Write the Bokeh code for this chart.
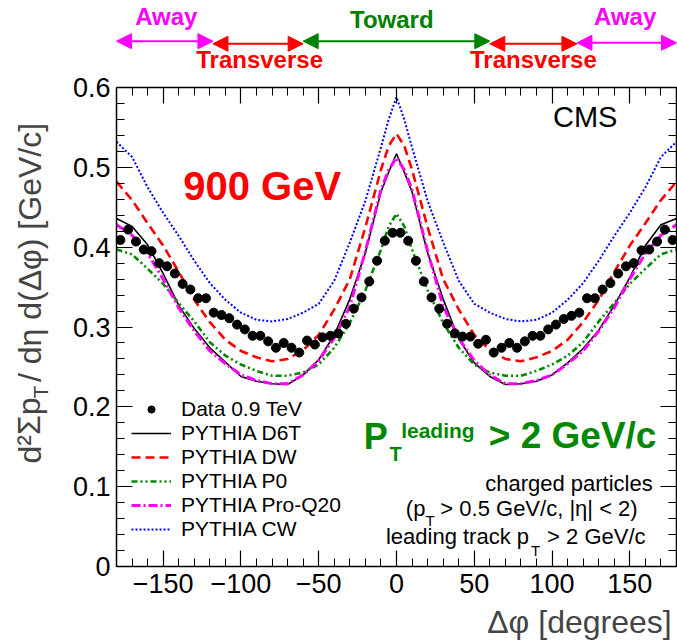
from bokeh.plotting import figure
from bokeh.models import (Range1d, FixedTicker, LinearAxis, Label, Legend, LegendItem,
                          Arrow, NormalHead, CustomLabelingPolicy)
from bokeh.layouts import column, row
from bokeh.embed import file_html
from bokeh.resources import INLINE

# ---------------- data ----------------
dphi_data = [-177.5, -172.5, -167.5, -162.5, -157.5, -152.5, -147.5, -142.5, -137.5, -132.5,
             -127.5, -122.5, -117.5, -112.5, -107.5, -102.5, -97.5, -92.5, -87.5, -82.5,
             -77.5, -72.5, -67.5, -62.5, -57.5, -52.5, -47.5, -42.5, -37.5, -32.5,
             -27.5, -22.5, -17.5, -12.5, -7.5, -2.5,
             2.5, 7.5, 12.5, 17.5, 22.5, 27.5, 32.5, 37.5, 42.5, 47.5,
             52.5, 57.5, 62.5, 67.5, 72.5, 77.5, 82.5, 87.5, 92.5, 97.5,
             102.5, 107.5, 112.5, 117.5, 122.5, 127.5, 132.5, 137.5, 142.5, 147.5,
             152.5, 157.5, 162.5, 167.5, 172.5, 177.5]
data_09tev = [0.409, 0.422, 0.407, 0.397, 0.395, 0.380, 0.376, 0.367, 0.354, 0.347,
              0.336, 0.336, 0.318, 0.315, 0.311, 0.303, 0.297, 0.289, 0.289, 0.282,
              0.274, 0.280, 0.274, 0.268, 0.283, 0.278, 0.287, 0.289, 0.292, 0.304,
              0.323, 0.337, 0.357, 0.383, 0.408, 0.418,
              0.418, 0.408, 0.383, 0.357, 0.337, 0.323, 0.304, 0.292, 0.288, 0.288,
              0.279, 0.284, 0.268, 0.274, 0.280, 0.274, 0.282, 0.289, 0.289, 0.297,
              0.303, 0.310, 0.314, 0.318, 0.336, 0.336, 0.347, 0.355, 0.367, 0.376,
              0.380, 0.396, 0.397, 0.407, 0.422, 0.409]

dphi_mc = [-180, -170, -160, -150, -140, -130, -120, -110, -100, -90, -80, -70, -60, -50,
           -40, -30, -20, -10, -5, 0, 5, 10, 20, 30, 40, 50, 60, 70, 80, 90, 100, 110,
           120, 130, 140, 150, 160, 170, 180]
pythia_d6t = [0.436, 0.426, 0.403, 0.367, 0.327, 0.298, 0.274, 0.256, 0.238, 0.232, 0.229,
              0.228, 0.240, 0.259, 0.290, 0.335, 0.393, 0.469, 0.494, 0.517, 0.494, 0.469,
              0.393, 0.335, 0.285, 0.255, 0.238, 0.228, 0.229, 0.232, 0.240, 0.255, 0.273,
              0.296, 0.327, 0.362, 0.402, 0.428, 0.436]
pythia_dw = [0.482, 0.459, 0.430, 0.402, 0.369, 0.334, 0.306, 0.284, 0.270, 0.262, 0.257,
             0.260, 0.271, 0.290, 0.322, 0.360, 0.425, 0.497, 0.527, 0.542, 0.527, 0.497,
             0.425, 0.360, 0.322, 0.290, 0.271, 0.260, 0.257, 0.262, 0.270, 0.284, 0.306,
             0.334, 0.369, 0.402, 0.430, 0.459, 0.482]
pythia_p0 = [0.397, 0.391, 0.373, 0.354, 0.330, 0.307, 0.281, 0.264, 0.253, 0.245, 0.239,
             0.239, 0.243, 0.253, 0.274, 0.305, 0.346, 0.397, 0.426, 0.442, 0.426, 0.397,
             0.346, 0.305, 0.274, 0.253, 0.243, 0.239, 0.239, 0.245, 0.253, 0.264, 0.281,
             0.307, 0.330, 0.354, 0.373, 0.391, 0.397]
pythia_proq20 = [0.428, 0.415, 0.392, 0.360, 0.324, 0.295, 0.270, 0.254, 0.240, 0.233, 0.229,
                 0.229, 0.240, 0.258, 0.286, 0.326, 0.395, 0.472, 0.497, 0.512, 0.497, 0.472,
                 0.395, 0.326, 0.286, 0.258, 0.240, 0.229, 0.229, 0.233, 0.240, 0.254, 0.270,
                 0.295, 0.324, 0.360, 0.392, 0.415, 0.428]
pythia_cw = [0.532, 0.513, 0.475, 0.443, 0.414, 0.383, 0.355, 0.334, 0.318, 0.309, 0.307,
             0.310, 0.318, 0.329, 0.358, 0.406, 0.458, 0.525, 0.560, 0.588, 0.560, 0.525,
             0.458, 0.406, 0.358, 0.329, 0.318, 0.310, 0.307, 0.309, 0.318, 0.334, 0.355,
             0.383, 0.414, 0.443, 0.475, 0.513, 0.532]

x_ticks = [-150, -100, -50, 0, 50, 100, 150]
x_minor = [-180, -170, -160, -150, -140, -130, -120, -110, -100, -90, -80, -70, -60, -50, -40,
           -30, -20, -10, 0, 10, 20, 30, 40, 50, 60, 70, 80, 90, 100, 110, 120, 130, 140, 150,
           160, 170, 180]
y_ticks = [0, 0.1, 0.2, 0.3, 0.4, 0.5, 0.6]
y_tick_labels = ["0", "0.1", "0.2", "0.3", "0.4", "0.5", "0.6"]
y_minor = [0.0, 0.02, 0.04, 0.06, 0.08, 0.1, 0.12, 0.14, 0.16, 0.18, 0.2, 0.22, 0.24, 0.26,
           0.28, 0.3, 0.32, 0.34, 0.36, 0.38, 0.4, 0.42, 0.44, 0.46, 0.48, 0.5, 0.52, 0.54,
           0.56, 0.58, 0.6]

legend_labels = ["Data 0.9 TeV", "PYTHIA D6T", "PYTHIA DW", "PYTHIA P0", "PYTHIA Pro-Q20",
                 "PYTHIA CW"]

region_names = ["Away", "Transverse", "Toward", "Transverse", "Away"]
region_edges = [-180, -118, -60, 60, 116, 180]
region_colors = ["#ff00ff", "#ff0000", "#008000", "#ff0000", "#ff00ff"]

FONT = "Liberation Sans"
RED, GREEN, MAG, BLUE = "#ff0000", "#008800", "#ff00ff", "#0000ff"

xr = Range1d(-180, 180)


def strip(height):
    f = figure(width=617, height=height, x_range=xr, y_range=Range1d(height, 0),
               toolbar_location=None, output_backend="svg", title_location=None,
               x_axis_location=None, y_axis_location=None,
               min_border_left=56, min_border_right=1, min_border_top=0, min_border_bottom=0)
    f.outline_line_color = None
    f.grid.visible = False
    return f


# ---------------- top strip with region arrows ----------------
top = strip(74)
arrow_y = [40.7, 43.3, 40.7, 43.3, 42.3]
label_y = [16.4, 59, 19.4, 59, 16.4]
label_x = [-148, -88, -3, 88, 147]
for i in range(5):
    c = region_colors[i]
    top.add_layout(Arrow(x_start=region_edges[i], y_start=arrow_y[i],
                         x_end=region_edges[i + 1], y_end=arrow_y[i],
                         start=NormalHead(size=15, fill_color=c, line_color=c),
                         end=NormalHead(size=15, fill_color=c, line_color=c),
                         line_color=c, line_width=2))
    top.add_layout(Label(x=label_x[i], y=label_y[i], text=region_names[i], text_color=c,
                         text_font=FONT, text_font_style="bold", text_font_size="24px",
                         text_align="center", text_baseline="alphabetic"))

# ---------------- bottom strip with x title ----------------
bottom = strip(38)
bottom.add_layout(Label(x=176.9, y=17.2, text="Δφ [degrees]", text_font=FONT,
                        text_font_size="32px", text_align="right",
                        text_baseline="alphabetic"))

# ---------------- left strip with y title ----------------
yfig = figure(width=60, height=642, x_range=Range1d(0, 60), y_range=Range1d(642, 0),
              toolbar_location=None, output_backend="svg", title_location=None,
              x_axis_location=None, y_axis_location=None,
              min_border_left=0, min_border_right=0, min_border_top=0, min_border_bottom=0)
yfig.outline_line_color = None
yfig.grid.visible = False
for (yx, yy, ytxt, ysize, yal) in [(29, 463, "d²Σp", "32px", "left"),
                                   (39.6, 398, "T", "21px", "left"),
                                   (29, 78, "  /  dη  d(Δφ)  [GeV/c]", "32px", "right")]:
    yfig.add_layout(Label(x=yx, y=yy, text=ytxt, text_font=FONT, text_font_size=ysize,
                          text_align=yal, text_baseline="alphabetic", angle=1.5708))

# ---------------- main plot ----------------
p = figure(width=617, height=530, x_range=xr, y_range=Range1d(0, 0.6),
           toolbar_location=None, output_backend="svg", title_location=None,
           min_border_left=56, min_border_right=1, min_border_top=13, min_border_bottom=38)
p.grid.visible = False
p.outline_line_color = None

no_labels = CustomLabelingPolicy(code="""
if (typeof indices.clear === "function") { indices.clear(); return indices }
for (const i of [...indices]) indices.unset(i)
return indices
""")


def style_axis(ax, labels=True):
    ax.major_tick_in = 16
    ax.major_tick_out = 0
    ax.minor_tick_in = 8
    ax.minor_tick_out = 0
    ax.axis_line_width = 1.5
    ax.axis_line_color = "black"
    ax.major_tick_line_width = 1.2
    ax.minor_tick_line_width = 1
    if labels:
        ax.major_label_text_font = FONT
        ax.major_label_text_font_size = "27px"
        ax.major_label_text_color = "black"
    else:
        ax.major_label_text_font_size = "0px"
        ax.major_label_standoff = 0
        ax.major_label_policy = no_labels


p.xaxis.ticker = FixedTicker(ticks=x_ticks, minor_ticks=x_minor)
p.yaxis.ticker = FixedTicker(ticks=y_ticks, minor_ticks=y_minor)
p.yaxis.major_label_overrides = dict(zip(y_ticks, y_tick_labels))
style_axis(p.xaxis[0])
style_axis(p.yaxis[0])
p.xaxis.major_label_standoff = 7
p.yaxis.major_label_standoff = 6

ax_top = LinearAxis(ticker=FixedTicker(ticks=x_ticks, minor_ticks=x_minor))
style_axis(ax_top, labels=False)
p.add_layout(ax_top, "above")
ax_right = LinearAxis(ticker=FixedTicker(ticks=y_ticks, minor_ticks=y_minor))
style_axis(ax_right, labels=False)
p.add_layout(ax_right, "right")

r_d6t = p.line(dphi_mc, pythia_d6t, line_color="black", line_width=1.6)
r_dw = p.line(dphi_mc, pythia_dw, line_color=RED, line_width=2.6, line_dash="9 5")
r_p0 = p.line(dphi_mc, pythia_p0, line_color=GREEN, line_width=2.6, line_dash="6 3 2 3 2 3")
r_q20 = p.line(dphi_mc, pythia_proq20, line_color=MAG, line_width=3, line_dash="9 3 2 3")
r_cw = p.line(dphi_mc, pythia_cw, line_color=BLUE, line_width=2, line_dash="2 2")
r_data = p.scatter(dphi_data, data_09tev, size=9, color="black")

legend_renderers = [r_data, r_d6t, r_dw, r_p0, r_q20, r_cw]
legend = Legend(items=[LegendItem(label=lbl, renderers=[rend])
                       for lbl, rend in zip(legend_labels, legend_renderers)],
                location=(15, 25))
legend.background_fill_alpha = 0
legend.border_line_color = None
legend.label_text_font = FONT
legend.label_text_font_size = "21px"
legend.label_text_color = "black"
legend.glyph_width = 40
legend.glyph_height = 18
legend.label_height = 18
legend.spacing = 0
legend.padding = 0
legend.margin = 0
legend.label_standoff = 10
p.add_layout(legend)


def lab(x, y, text, size, color="black", bold=False, align="left"):
    p.add_layout(Label(x=x, y=y, text=text, text_font=FONT, text_font_size=size,
                       text_color=color, text_font_style="bold" if bold else "normal",
                       text_align=align, text_baseline="alphabetic"))


lab(-137.1, 0.4764, "900 GeV", "40px", RED, bold=True)
lab(100.6, 0.5628, "CMS", "29px")
lab(-21.0, 0.1633, "P", "36px", GREEN, bold=True)
lab(-4.5, 0.1407, "T", "20px", GREEN, bold=True)
lab(3.0, 0.1705, "leading", "21px", GREEN, bold=True)
lab(167.1, 0.1639, "> 2 GeV/c", "37px", GREEN, bold=True, align="right")
lab(164.7, 0.1041, "charged particles", "22px", align="right")
lab(18.6, 0.0728, "(p", "22px", align="right")
lab(18.6, 0.0576, "T", "15px")
lab(28.2, 0.0728, "> 0.5 GeV/c, |η| < 2)", "22px")
lab(85.2, 0.0373, "leading track p", "22px", align="right")
lab(86.5, 0.020, "T", "15px")
lab(96.8, 0.0373, "> 2 GeV/c", "22px")

layout = row(yfig, column(top, p, bottom))
open("out.html", "w").write(file_html(layout, INLINE))
